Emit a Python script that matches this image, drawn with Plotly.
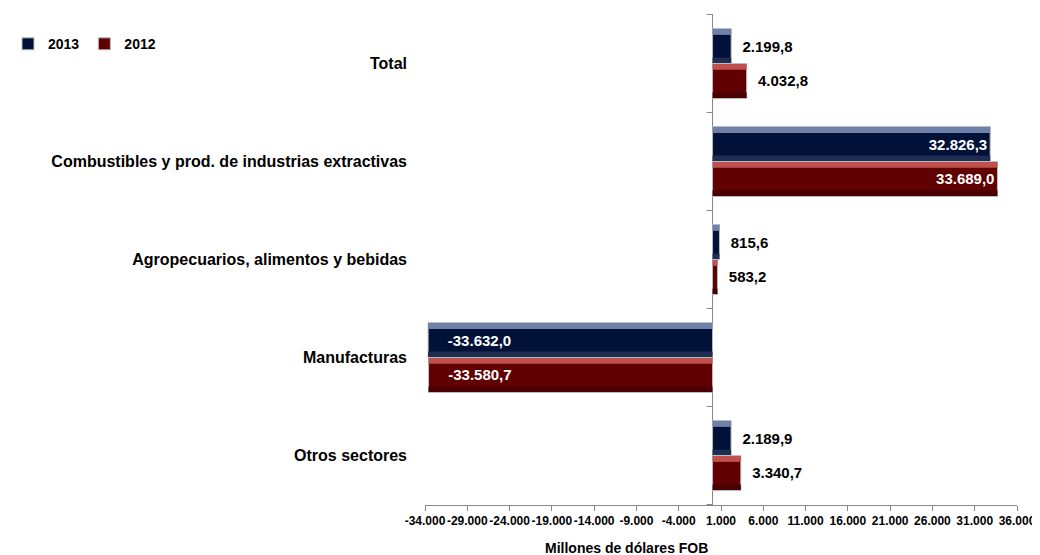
import plotly.graph_objects as go

categories = ["Total", "Combustibles y prod. de industrias extractivas",
              "Agropecuarios, alimentos y bebidas", "Manufacturas", "Otros sectores"]
values_2013 = [2199.8, 32826.3, 815.6, -33632.0, 2189.9]
values_2012 = [4032.8, 33689.0, 583.2, -33580.7, 3340.7]
pos_2013 = ["outside", "inside", "outside", "inside", "outside"]
pos_2012 = ["outside", "inside", "outside", "inside", "outside"]
x_ticks = list(range(-34000, 36001, 5000))

FONT = "Liberation Sans, Arial, sans-serif"
NB = "\u00a0"
BW = 0.357  # bar thickness (fraction of category band)


def fmt(v, dec=1):
    s = f"{abs(v):,.{dec}f}".replace(",", "X").replace(".", ",").replace("X", ".")
    return ("-" if v < 0 else "") + s


def label(v, p):
    if p == "outside":
        return NB * 2 + fmt(v)
    if v < 0:
        return NB * 4 + fmt(v)
    return fmt(v)


fig = go.Figure()
series = [
    ("2013", values_2013, pos_2013, "#011137", "#6f80a9", "#1f2d50", -BW),
    ("2012", values_2012, pos_2012, "#600000", "#c0504d", "#4a0000", 0.0),
]
for name, vals, pos, fill, top, bottom, off in series:
    fig.add_trace(go.Bar(
        name=name, y=categories, x=vals, orientation="h",
        offset=off, width=BW,
        marker=dict(color=fill, line=dict(color="#b8bcc8", width=1)),
        text=[label(v, p) for v, p in zip(vals, pos)], textposition=pos,
        insidetextanchor="end", textangle=0,
        insidetextfont=dict(color="white", size=15, family=FONT, weight="bold"),
        outsidetextfont=dict(color="black", size=15, family=FONT, weight="bold"),
        cliponaxis=False,
    ))
# bevel strips (top light, bottom shade)
for name, vals, pos, fill, top, bottom, off in series:
    fig.add_trace(go.Bar(
        y=categories, x=vals, orientation="h", offset=off + 0.005, width=0.06,
        marker=dict(color=top, line=dict(width=0)), showlegend=False,
        hoverinfo="skip",
    ))
    fig.add_trace(go.Bar(
        y=categories, x=vals, orientation="h", offset=off + BW - 0.06, width=0.055,
        marker=dict(color=bottom, line=dict(width=0)), showlegend=False,
        hoverinfo="skip",
    ))

# small tick marks on the zero line between categories
for i in range(len(categories) + 1):
    fig.add_shape(type="line", xref="x", yref="y", x0=-700, x1=0,
                  y0=i - 0.5, y1=i - 0.5, line=dict(color="#888888", width=1))

fig.add_annotation(text="<b>Millones de dólares FOB</b>", xref="paper", yref="paper",
                   x=0.341, y=-0.068, xanchor="center", yanchor="top", showarrow=False,
                   font=dict(size=14, family=FONT, color="black"))

fig.update_layout(
    width=1032, height=547,
    margin=dict(l=417, r=23, t=6, b=50, autoexpand=False),
    paper_bgcolor="white", plot_bgcolor="white",
    barmode="overlay",
    font=dict(family=FONT, color="black"),
    showlegend=True,
    legend=dict(orientation="h", xref="container", yref="container",
                x=-0.03, y=0.963, xanchor="left", yanchor="top",
                font=dict(size=14, family=FONT, weight="bold"),
                itemwidth=30, tracegroupgap=0, bgcolor="rgba(0,0,0,0)"),
    xaxis=dict(range=[-34000, 36000], tickvals=x_ticks,
               ticktext=[fmt(v, 0) for v in x_ticks], tickangle=0,
               showgrid=False, zeroline=True, zerolinecolor="#888888", zerolinewidth=1,
               showline=True, linecolor="#888888", linewidth=1,
               ticks="outside", ticklen=5, tickcolor="#888888",
               tickfont=dict(size=12, family=FONT, weight="bold", color="black")),
    yaxis=dict(autorange="reversed", showgrid=False, showline=False, ticks="",
               ticklabelstandoff=17,
               tickfont=dict(size=16, family=FONT, weight="bold", color="black")),
)

fig.write_html("out.html")
